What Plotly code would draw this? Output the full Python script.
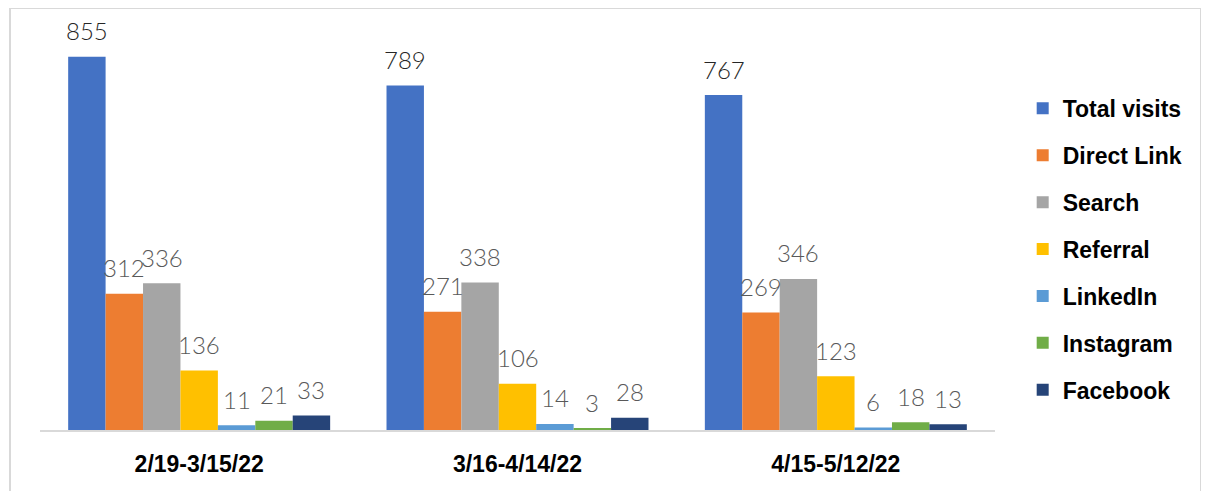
import plotly.graph_objects as go

categories = ["2/19-3/15/22", "3/16-4/14/22", "4/15-5/12/22"]
series_names = ["Total visits", "Direct Link", "Search", "Referral", "LinkedIn", "Instagram", "Facebook"]
total_visits = [855, 789, 767]
direct_link = [312, 271, 269]
search = [336, 338, 346]
referral = [136, 106, 123]
linkedin = [11, 14, 6]
instagram = [21, 3, 18]
facebook = [33, 28, 13]
colors = ["#4472C4", "#ED7D31", "#A5A5A5", "#FFC000", "#5B9BD5", "#70AD47", "#264478"]
label_colors = ["#262626", "#595959", "#595959", "#595959", "#595959", "#595959", "#595959"]

values = [total_visits, direct_link, search, referral, linkedin, instagram, facebook]

W, H = 1201, 483
L, R, T, B = 32, 987, 29, 422
pw, ph = R - L, B - T
bargap = 0.177
n = len(series_names)
bar_px = pw / len(categories) * (1 - bargap) / n

fig = go.Figure()
for i, (name, vals) in enumerate(zip(series_names, values)):
    fig.add_trace(go.Bar(
        x=categories, y=vals, name=name,
        marker=dict(color=colors[i], line=dict(width=0)),
        legendgroup=name,
    ))
    for c, v in zip(categories, vals):
        fig.add_annotation(
            x=c, y=v, xref="x", yref="y", text=str(v), showarrow=False,
            xshift=(i - (n - 1) / 2) * bar_px, yshift=26, yanchor="middle",
            font=dict(family="Lato", size=24, color=label_colors[i], weight=300),
        )

fig.update_layout(
    width=W, height=H,
    margin=dict(l=L, r=W - R, t=T, b=H - B),
    paper_bgcolor="white", plot_bgcolor="white",
    barmode="group", bargap=bargap, bargroupgap=0,
    showlegend=True,
    legend=dict(x=1.029, y=0.873, xanchor="left", yanchor="top",
                font=dict(family="Liberation Sans", size=23, color="black", weight="bold"),
                traceorder="grouped", tracegroupgap=14, itemwidth=30),
    xaxis=dict(showline=True, linecolor="#D9D9D9", linewidth=2, ticks="",
               tickfont=dict(family="Liberation Sans", size=23, color="black", weight="bold"),
               ticklabelstandoff=12),
    yaxis=dict(range=[0, 900], visible=False, showgrid=False),
)

fig.add_shape(type="rect", xref="paper", yref="paper",
              x0=(2 - L) / pw, x1=(1193 - L) / pw,
              y0=(B - 500) / ph, y1=(B - 0) / ph,
              line=dict(color="#D9D9D9", width=2), fillcolor="rgba(0,0,0,0)", layer="below")

fig.write_html("out.html")
